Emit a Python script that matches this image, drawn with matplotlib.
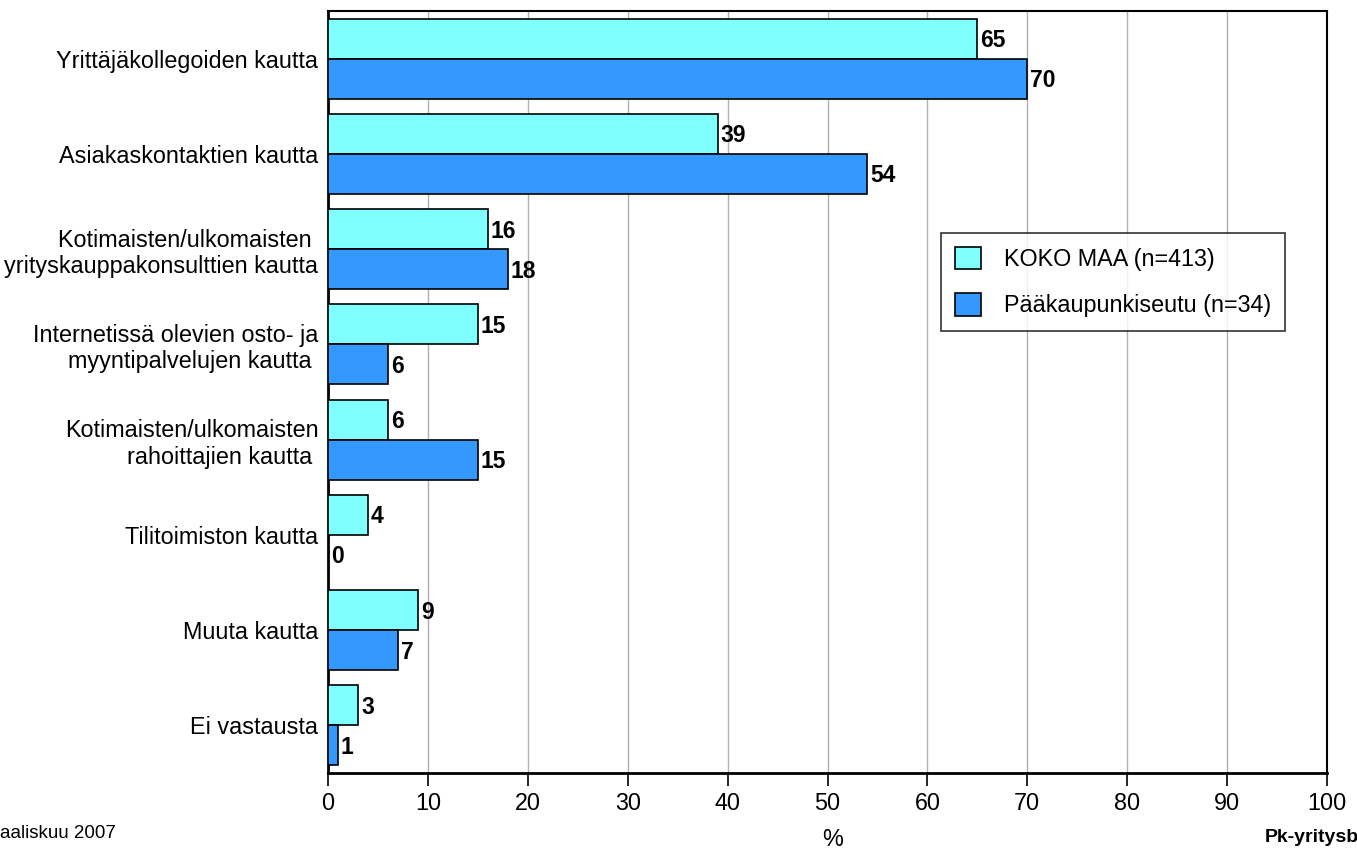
import numpy as np
import matplotlib.pyplot as plt

plt.rcParams['font.family'] = ['Liberation Sans', 'DejaVu Sans']

categories = [
    "Yrittäjäkollegoiden kautta",
    "Asiakaskontaktien kautta",
    "Kotimaisten/ulkomaisten \nyrityskauppakonsulttien kautta",
    "Internetissä olevien osto- ja\nmyyntipalvelujen kautta ",
    "Kotimaisten/ulkomaisten\nrahoittajien kautta ",
    "Tilitoimiston kautta",
    "Muuta kautta",
    "Ei vastausta",
]
koko_maa = [65, 39, 16, 15, 6, 4, 9, 3]
pks = [70, 54, 18, 6, 15, 0, 7, 1]
series_names = ["KOKO MAA (n=413)", "Pääkaupunkiseutu (n=34)"]
xticks = list(range(0, 101, 10))

fs = 16.8

fig = plt.figure(figsize=(13.57, 8.48), dpi=100)
ax = fig.add_axes([328 / 1357, 75 / 848, 999 / 1357, 762 / 848])

y = np.arange(len(categories))
h = 0.42
b1 = ax.barh(y - h / 2, koko_maa, height=h, color="#80FFFF", edgecolor="black",
             linewidth=1.2, label=series_names[0], zorder=3)
b2 = ax.barh(y + h / 2, pks, height=h, color="#3399FF", edgecolor="black",
             linewidth=1.2, label=series_names[1], zorder=3)

for bars, vals in ((b1, koko_maa), (b2, pks)):
    for bar, v in zip(bars, vals):
        ax.text(v + 0.3, bar.get_y() + bar.get_height() / 2 + 0.02, str(v),
                ha="left", va="center", fontsize=16.5, fontweight="bold")

ax.set_ylim(len(categories) - 0.5, -0.5)
ax.set_xlim(0, 100)
ax.set_yticks(y)
ax.set_yticklabels(categories, fontsize=fs, multialignment="right")
ax.tick_params(axis="y", length=0, pad=7)
ax.set_xticks(xticks)
ax.tick_params(axis="x", labelsize=fs, length=9, width=1.2, direction="out", pad=5)
ax.grid(axis="x", color="#b0b0b0", linewidth=1, zorder=0)
for s in ax.spines.values():
    s.set_linewidth(1.5)
    s.set_color("black")
ax.spines["bottom"].set_linewidth(2)
ax.spines["left"].set_linewidth(2)

leg = ax.legend(loc="upper left", bbox_to_anchor=(613 / 999, (773 - 233) / 762),
                fontsize=fs, frameon=True, fancybox=False, edgecolor="black",
                handlelength=1.1, handleheight=1.1, borderpad=0.6, labelspacing=0.95,
                handletextpad=1.0, borderaxespad=0)
leg.get_frame().set_linewidth(1.2)

fig.text(833 / 1357, 1 - 839 / 848, "%", ha="center", va="center", fontsize=fs)
fig.text(0, 1 - 834 / 848, "aaliskuu 2007", ha="left", va="center", fontsize=13.5)
fig.text(1265 / 1357, 1 - 838 / 848, "Pk-yritysbarometri", ha="left", va="center",
         fontsize=14, fontweight="bold")

fig.savefig("out.png", dpi=100)
